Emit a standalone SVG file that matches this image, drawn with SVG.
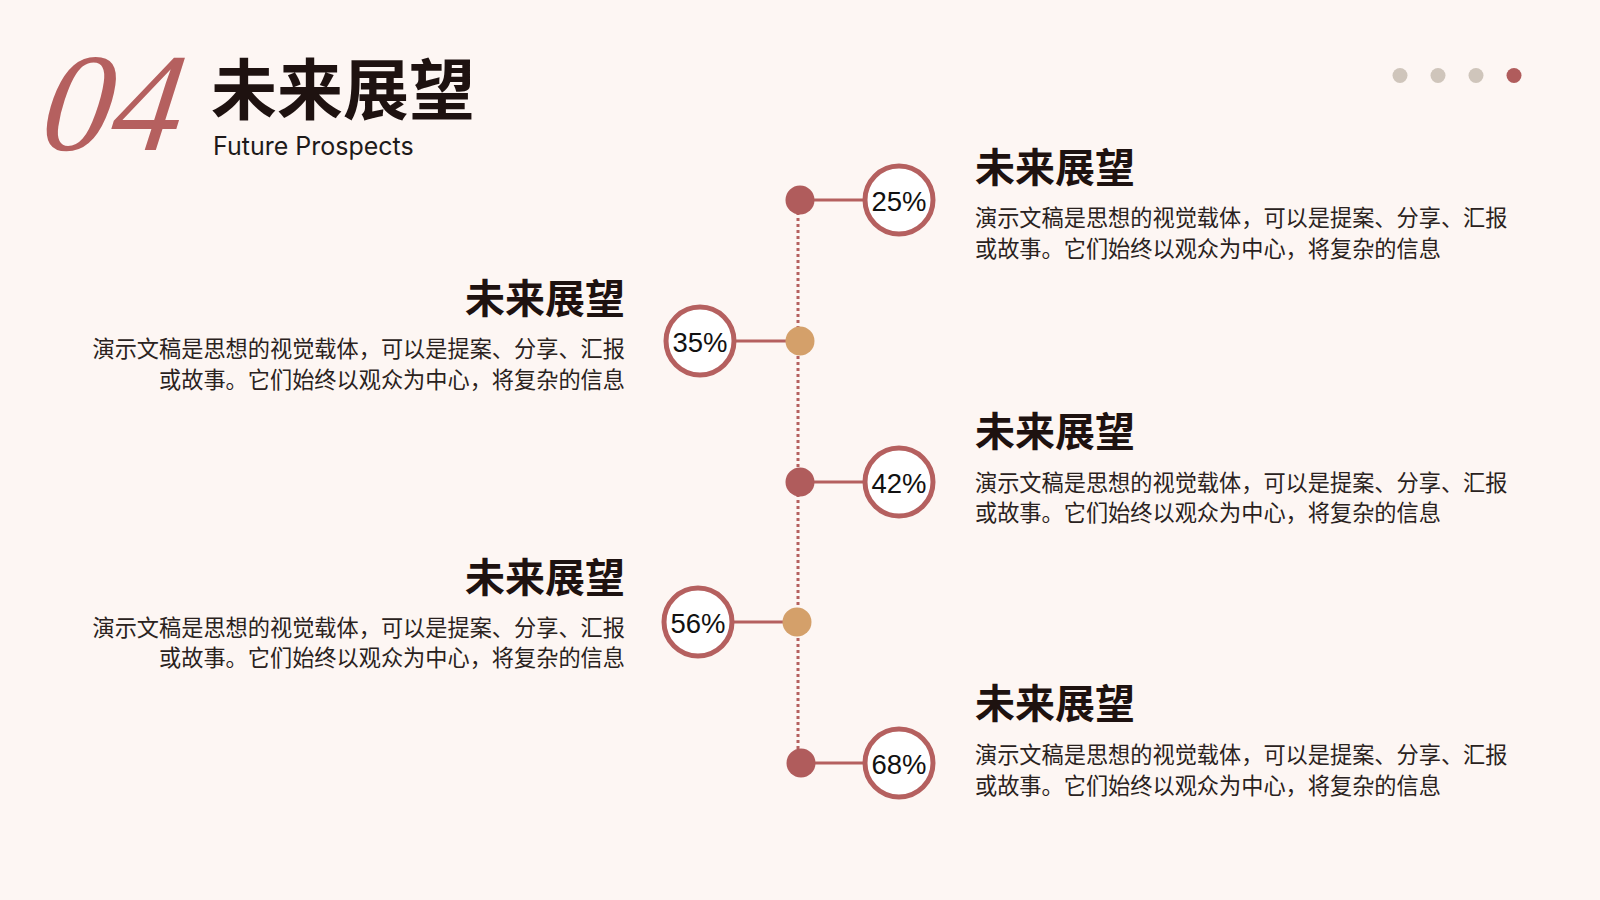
<svg xmlns="http://www.w3.org/2000/svg" width="1600" height="900" viewBox="0 0 1600 900">
<style>
.bg{fill:#fdf6f3}
.num{font-family:"Liberation Serif",serif;font-style:italic;fill:#b5605f}
.title{font-family:"Noto Sans CJK SC",sans-serif;font-weight:700;fill:#1e1210}
.sub{font-family:Inter,"Liberation Sans",sans-serif;fill:#1e1a1a}
.h{font-family:"Noto Sans CJK SC",sans-serif;font-weight:700;font-size:40px;fill:#1e1210}
.b{font-family:"Noto Sans CJK SC",sans-serif;font-size:22.2px;fill:#2a2220}
.pct{font-family:"Liberation Sans",Arial,sans-serif;font-size:27.5px;fill:#111;text-anchor:middle;dominant-baseline:central}
.ring{fill:#fff;stroke:#b5605f;stroke-width:5}
.link{stroke:#b5605f;stroke-width:3}
.red{fill:#b05c5c}
.tan{fill:#d4a06a}
.grey{fill:#cfc5bb}
</style>
<rect class="bg" width="1600" height="900"/>
<g id="header">
<text class="num" x="0" y="0" font-size="140" transform="translate(38 150) skewX(-8)">04</text>
<text class="title" x="211" y="114" font-size="66">未来展望</text>
<text class="sub" x="213" y="155" font-size="25">Future Prospects</text>
</g>
<g id="pager">
<circle class="grey" cx="1400" cy="75.5" r="7.5"/>
<circle class="grey" cx="1438" cy="75.5" r="7.5"/>
<circle class="grey" cx="1476" cy="75.5" r="7.5"/>
<circle class="red" cx="1514" cy="75.5" r="7.5"/>
</g>
<g id="connectors">
<line x1="798" y1="200" x2="798" y2="763" stroke="#b5605f" stroke-width="3" stroke-dasharray="3 3"/>
<line class="link" x1="800" y1="200" x2="864" y2="200"/>
<line class="link" x1="736" y1="341" x2="800" y2="341"/>
<line class="link" x1="800" y1="482" x2="864" y2="482"/>
<line class="link" x1="734" y1="622" x2="797" y2="622"/>
<line class="link" x1="801" y1="763" x2="864" y2="763"/>
</g>
<g id="node1">
<circle class="red" cx="800" cy="200" r="14.5"/>
<circle class="ring" cx="899" cy="200" r="34"/>
<text class="pct" x="899" y="201">25%</text>
<text class="h" x="975" y="182">未来展望</text>
<text class="b" x="975" y="226">演示文稿是思想的视觉载体，可以是提案、分享、汇报</text>
<text class="b" x="975" y="257">或故事。它们始终以观众为中心，将复杂的信息</text>
</g>
<g id="node2">
<circle class="tan" cx="800" cy="341" r="14.5"/>
<circle class="ring" cx="700" cy="341" r="34"/>
<text class="pct" x="700" y="342">35%</text>
<text class="h" x="625" y="313" text-anchor="end">未来展望</text>
<text class="b" x="625" y="357" text-anchor="end">演示文稿是思想的视觉载体，可以是提案、分享、汇报</text>
<text class="b" x="625" y="388" text-anchor="end">或故事。它们始终以观众为中心，将复杂的信息</text>
</g>
<g id="node3">
<circle class="red" cx="800" cy="482" r="14.5"/>
<circle class="ring" cx="899" cy="482" r="34"/>
<text class="pct" x="899" y="483">42%</text>
<text class="h" x="975" y="446">未来展望</text>
<text class="b" x="975" y="491">演示文稿是思想的视觉载体，可以是提案、分享、汇报</text>
<text class="b" x="975" y="521">或故事。它们始终以观众为中心，将复杂的信息</text>
</g>
<g id="node4">
<circle class="tan" cx="797" cy="622" r="14.5"/>
<circle class="ring" cx="698" cy="622" r="34"/>
<text class="pct" x="698" y="623">56%</text>
<text class="h" x="625" y="592" text-anchor="end">未来展望</text>
<text class="b" x="625" y="636" text-anchor="end">演示文稿是思想的视觉载体，可以是提案、分享、汇报</text>
<text class="b" x="625" y="666" text-anchor="end">或故事。它们始终以观众为中心，将复杂的信息</text>
</g>
<g id="node5">
<circle class="red" cx="801" cy="763" r="14.5"/>
<circle class="ring" cx="899" cy="763" r="34"/>
<text class="pct" x="899" y="764">68%</text>
<text class="h" x="975" y="718">未来展望</text>
<text class="b" x="975" y="763">演示文稿是思想的视觉载体，可以是提案、分享、汇报</text>
<text class="b" x="975" y="794">或故事。它们始终以观众为中心，将复杂的信息</text>
</g>
</svg>
